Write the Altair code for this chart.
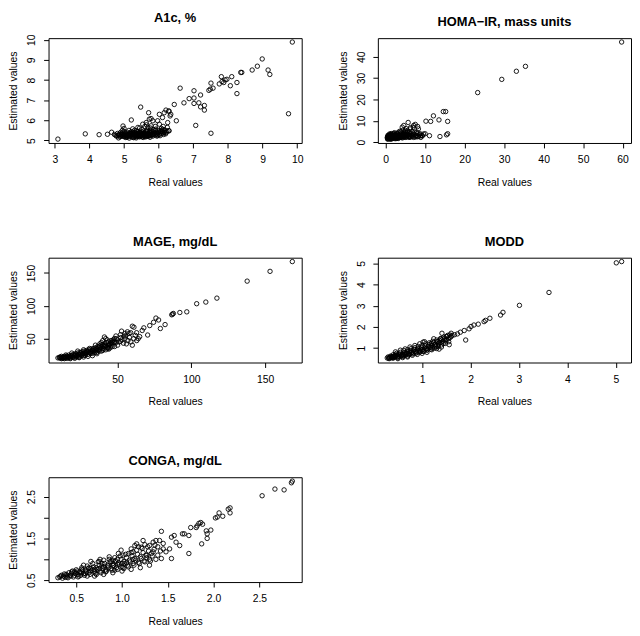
import altair as alt
import pandas as pd

# ---- data (real value, estimated value) ----
A1C_PTS = [
    (3.09, 5.07), (3.88, 5.33), (4.28, 5.29), (4.52, 5.31), (4.64, 5.41),
    (5.48, 6.66), (4.97, 5.72), (5.21, 6.02), (5.71, 6.38), (5.78, 6.09),
    (6.02, 6.30), (6.21, 6.51), (6.30, 6.46), (6.35, 6.30), (6.45, 6.79),
    (6.51, 5.98), (6.62, 7.60), (6.73, 6.87), (6.88, 7.08), (7.02, 7.47),
    (7.02, 7.11), (7.02, 6.84), (7.16, 6.87), (7.21, 7.26), (7.21, 6.67),
    (7.32, 6.74), (7.32, 6.51), (7.07, 5.75), (7.51, 5.36), (7.45, 7.49),
    (7.51, 7.85), (7.49, 7.55), (7.57, 7.60), (7.75, 7.81), (7.81, 8.17),
    (7.83, 7.93), (7.88, 7.88), (7.92, 8.01), (7.97, 8.04), (8.07, 7.72),
    (8.11, 8.17), (8.26, 7.88), (8.26, 7.33), (8.37, 8.38), (8.40, 8.38),
    (8.70, 8.50), (8.85, 8.69), (8.99, 9.05), (9.16, 8.50), (9.21, 8.28),
    (9.75, 6.33), (9.86, 9.89),
    (6.16, 6.38), (6.29, 6.46), (6.33, 6.22), (6.11, 6.14), (5.97, 5.98),
    (6.02, 5.81), (6.13, 5.70), (6.26, 5.89), (6.29, 5.49), (5.83, 5.98),
    (5.73, 6.06), (5.64, 5.89), (5.54, 5.81), (5.78, 5.73), (5.69, 5.65),
    (5.92, 5.57), (6.07, 5.49), (6.16, 5.41),
    (4.72, 5.30), (4.78, 5.22), (4.81, 5.35), (4.85, 5.27), (4.88, 5.18),
    (4.90, 5.40), (4.93, 5.25), (4.96, 5.32), (4.98, 5.20), (5.00, 5.45),
    (5.02, 5.28), (5.05, 5.36), (5.07, 5.17), (5.10, 5.24), (5.12, 5.31),
    (5.14, 5.50), (5.16, 5.20), (5.18, 5.38), (5.20, 5.27), (5.22, 5.33),
    (5.24, 5.16), (5.26, 5.42), (5.28, 5.25), (5.30, 5.30), (5.32, 5.22),
    (5.34, 5.36), (5.36, 5.19), (5.38, 5.28), (5.40, 5.45), (5.42, 5.24),
    (5.44, 5.32), (5.46, 5.20), (5.48, 5.38), (5.50, 5.27), (5.52, 5.55),
    (5.54, 5.30), (5.56, 5.22), (5.58, 5.35), (5.60, 5.26), (5.62, 5.42),
    (5.64, 5.30), (5.66, 5.20), (5.68, 5.50), (5.70, 5.33), (5.72, 5.25),
    (5.74, 5.40), (5.76, 5.62), (5.78, 5.30), (5.80, 5.45), (5.82, 5.28),
    (5.85, 5.55), (5.88, 5.35), (5.90, 5.70), (5.93, 5.42), (5.96, 5.30),
    (6.00, 5.50), (6.05, 5.38), (6.08, 5.60), (6.10, 5.45), (6.14, 5.30),
    (6.18, 5.52), (6.22, 5.40), (6.25, 5.65), (6.30, 5.48), (5.05, 5.15),
    (5.15, 5.12), (5.35, 5.13), (5.55, 5.15), (5.25, 5.58), (5.45, 5.62),
    (5.65, 5.78), (5.00, 5.60), (4.95, 5.50), (5.60, 5.70), (5.30, 5.50),
    (5.40, 5.65), (4.84, 5.13), (5.28, 5.14), (5.75, 5.16), (5.95, 5.22),
    (4.82, 5.24), (4.86, 5.31), (4.90, 5.21), (4.94, 5.36), (4.97, 5.27),
    (5.01, 5.19), (5.03, 5.33), (5.06, 5.25), (5.09, 5.41), (5.11, 5.18),
    (5.13, 5.27), (5.17, 5.34), (5.19, 5.23), (5.21, 5.44), (5.23, 5.29),
    (5.25, 5.21), (5.27, 5.35), (5.29, 5.18), (5.31, 5.40), (5.33, 5.27),
    (5.35, 5.23), (5.37, 5.33), (5.39, 5.21), (5.41, 5.37), (5.43, 5.28),
    (5.45, 5.18), (5.47, 5.31), (5.49, 5.24), (5.51, 5.42), (5.53, 5.19),
    (5.55, 5.29), (5.57, 5.37), (5.59, 5.21), (5.61, 5.33), (5.63, 5.24),
    (5.65, 5.45), (5.67, 5.28), (5.69, 5.36), (5.71, 5.21), (5.73, 5.31),
    (5.75, 5.48), (5.77, 5.24), (5.79, 5.38), (5.81, 5.33), (5.83, 5.22),
    (5.86, 5.42), (5.89, 5.27), (5.91, 5.50), (5.94, 5.33), (5.97, 5.25),
    (5.99, 5.40), (6.02, 5.30), (6.06, 5.45), (6.09, 5.35), (6.12, 5.55),
    (6.16, 5.42), (6.20, 5.33), (6.24, 5.47), (5.08, 5.30), (5.18, 5.28),
    (5.28, 5.31), (5.38, 5.34), (5.48, 5.27), (5.58, 5.30), (5.68, 5.26),
    (4.76, 5.26), (4.92, 5.29), (5.04, 5.22), (5.20, 5.36), (5.32, 5.26),
    (5.44, 5.40), (5.52, 5.34), (5.62, 5.18), (5.72, 5.38), (5.84, 5.30),
    (5.96, 5.36), (6.04, 5.24), (6.13, 5.38), (5.36, 5.48), (5.56, 5.46),
]

HOMA_PTS = [
    (59.75, 46.9), (35.4, 35.5), (33.1, 33.2), (29.4, 29.4), (23.3, 23.2),
    (15.2, 14.3), (14.6, 14.3), (12.1, 12.3), (13.5, 10.4), (15.7, 9.7),
    (10.2, 9.8), (11.4, 9.7), (5.7, 9.2), (13.75, 2.6), (11.1, 3.0),
    (15.4, 3.4), (15.7, 3.9), (10.0, 3.9), (9.2, 3.1), (7.5, 8.3),
    (8.1, 7.3), (7.1, 7.8), (6.25, 6.2), (4.6, 7.8), (4.2, 7.0),
    (8.3, 6.2), (5.0, 5.5), (7.9, 4.7), (8.75, 3.9),
    (0.4, 2.1), (0.5, 1.6), (0.6, 2.8), (0.7, 1.9), (0.8, 2.4), (0.9, 3.3),
    (1.0, 1.7), (1.1, 2.2), (1.2, 2.9), (1.3, 1.5), (1.4, 2.5), (1.5, 3.6),
    (1.6, 2.0), (1.7, 2.7), (1.8, 1.8), (1.9, 3.1), (2.0, 2.3), (2.1, 4.0),
    (2.2, 1.9), (2.3, 2.6), (2.4, 3.4), (2.5, 2.1), (2.6, 2.8), (2.7, 1.7),
    (2.8, 3.9), (2.9, 2.4), (3.0, 3.0), (3.1, 2.0), (3.2, 4.6), (3.3, 2.6),
    (3.4, 3.3), (3.5, 2.2), (3.6, 5.1), (3.7, 2.9), (3.8, 3.7), (3.9, 2.4),
    (4.0, 4.3), (4.1, 2.1), (4.2, 3.1), (4.4, 5.6), (4.5, 2.7), (4.6, 3.5),
    (4.8, 2.3), (4.9, 4.8), (5.0, 3.0), (5.2, 6.3), (5.3, 2.5), (5.5, 3.8),
    (5.6, 5.2), (5.8, 2.8), (6.0, 4.4), (6.2, 2.3), (6.3, 6.8), (6.5, 3.2),
    (6.7, 5.0), (6.9, 2.6), (7.0, 7.0), (7.2, 3.6), (7.4, 4.7), (7.6, 2.4),
    (7.8, 3.1), (8.0, 4.0), (8.3, 2.7), (8.6, 3.5), (8.9, 2.2), (9.3, 2.9),
    (9.6, 3.8), (0.9, 2.6), (1.3, 3.0), (1.7, 2.3), (2.2, 2.9), (2.6, 2.3),
    (3.0, 2.5), (0.6, 2.4), (1.0, 3.8), (1.5, 2.7), (0.5, 1.4), (1.2, 1.4),
    (0.5, 2.4), (0.7, 2.9), (0.9, 2.0), (1.1, 2.7), (1.3, 2.2), (1.5, 1.9),
    (1.7, 3.2), (1.9, 2.2), (2.1, 2.8), (2.3, 2.0), (2.5, 3.2), (2.7, 2.5),
    (2.9, 1.9), (3.1, 3.5), (3.3, 2.1), (3.5, 2.9), (3.7, 2.2), (3.9, 3.3),
    (4.1, 2.6), (4.3, 2.0), (4.5, 3.9), (4.7, 2.5), (4.9, 3.3), (5.1, 2.2),
    (5.4, 2.9), (5.7, 3.4), (5.9, 2.2), (6.1, 3.0), (6.4, 2.5), (6.8, 3.3),
    (7.1, 2.2), (7.5, 3.0), (0.8, 1.5), (1.6, 1.5), (2.4, 1.6), (3.2, 1.7),
    (1.2, 3.5), (2.0, 3.6), (2.8, 3.0), (3.6, 2.6), (4.4, 3.0), (5.2, 3.6),
    (6.0, 2.6), (0.6, 3.2), (1.4, 4.0), (2.2, 4.4), (3.0, 4.0), (3.8, 4.8),
    (4.6, 4.4), (5.4, 4.6), (6.2, 4.0), (7.0, 4.2), (8.1, 2.5), (8.8, 2.9),
]

MAGE_PTS = [
    (168.4, 167.4), (153.3, 152.5), (137.8, 137.6), (117.3, 111.7),
    (109.8, 105.7), (103.6, 103.2), (96.9, 90.8), (92.2, 89.8), (87.8, 88.3),
    (86.7, 86.3), (87.3, 87.3), (82.2, 71.4), (79.0, 65.4), (77.8, 78.4),
    (76.0, 81.3), (74.4, 74.9), (71.8, 69.9), (70.4, 55.5), (67.8, 66.4),
    (66.7, 62.4), (64.0, 50.0), (62.9, 59.0), (61.1, 67.4), (60.0, 68.9),
    (60.0, 40.0), (58.9, 59.0), (57.8, 58.0), (56.7, 60.4), (55.6, 54.0),
    (54.4, 54.0), (52.7, 61.4), (52.2, 51.5), (48.9, 54.0), (47.8, 50.0),
    (46.7, 46.5), (45.6, 44.0), (41.1, 52.5), (43.3, 36.6),
    (9.6, 20.6), (11, 22), (12, 19.5), (13, 21), (14, 23), (15, 20.5),
    (16, 22.5), (17, 25), (18, 21.5), (19, 23.5), (20, 26), (21, 22),
    (22, 24.5), (23, 28), (24, 23), (25, 26), (26, 30), (27, 24.5),
    (28, 27.5), (29, 32), (30, 26), (31, 29), (32, 34), (33, 27.5),
    (34, 31), (35, 36), (36, 29), (37, 33), (38, 39), (39, 31), (40, 35),
    (41, 42), (42, 33), (43, 37), (44, 45), (45, 36), (46, 40), (47, 48),
    (48, 38), (14, 19.5), (16, 20), (18, 20.5), (20, 21.5), (22, 22),
    (24, 25), (26, 26), (28, 29), (30, 31), (32, 28), (34, 33), (36, 35),
    (38, 34), (40, 32), (42, 39), (44, 40), (46, 43), (48, 46), (12, 23),
    (15, 25), (19, 28), (23, 31), (27, 33), (31, 35), (35, 40), (39, 44),
    (43, 48), (17, 22), (21, 25), (25, 28), (29, 29), (33, 32), (37, 37),
    (41, 38), (45, 42), (49, 44), (50, 48), (52, 46), (11, 20.5),
    (13, 19.8), (24, 21.5), (28, 24.5), (32, 30), (36, 31.5), (40, 39.5),
    (44, 34),
    (10.5, 21), (11.5, 21.5), (12.5, 20.5), (13.5, 22), (14.5, 21.5),
    (15.5, 23.5), (16.5, 21), (17.5, 23), (18.5, 24.5), (19.5, 22),
    (20.5, 24), (21.5, 27), (22.5, 23), (23.5, 26), (24.5, 29), (25.5, 24),
    (26.5, 27.5), (27.5, 31), (28.5, 26), (29.5, 30), (30.5, 33),
    (31.5, 27.5), (32.5, 31), (33.5, 35), (34.5, 29), (35.5, 33), (36.5, 38),
    (37.5, 31), (38.5, 36), (39.5, 41), (40.5, 34), (41.5, 40), (42.5, 44),
    (43.5, 35), (44.5, 41), (45.5, 47), (46.5, 38), (47.5, 44), (49, 50),
    (50, 40), (51, 45), (53, 48), (54, 43), (55, 50), (57, 47), (58, 52),
    (56, 42), (59, 45), (61, 50), (62, 55), (63, 47), (65, 53), (52, 56),
    (55, 58), (40, 47), (42, 50), (38, 42), (36, 27), (33, 24), (30, 23),
    (27, 22), (24, 21), (21, 20), (18, 19.5),
]

MODD_PTS = [
    (5.01, 5.03), (5.12, 5.09), (3.62, 3.63), (3.01, 3.02), (2.67, 2.69),
    (2.62, 2.56), (2.40, 2.41), (2.31, 2.31), (2.28, 2.25), (2.16, 2.13),
    (2.07, 2.09), (2.01, 2.02), (1.97, 1.91), (1.90, 1.38), (1.87, 1.83),
    (1.79, 1.75), (1.73, 1.67), (1.67, 1.63), (1.60, 1.70), (1.56, 1.16),
    (1.50, 1.55), (1.41, 1.70), (1.39, 1.44), (1.33, 1.31), (1.24, 1.44),
    (1.19, 1.23), (1.02, 1.28),
    (0.28, 0.53), (0.30, 0.58), (0.32, 0.50), (0.35, 0.62), (0.37, 0.55),
    (0.40, 0.68), (0.42, 0.56), (0.45, 0.63), (0.47, 0.75), (0.50, 0.58),
    (0.52, 0.68), (0.55, 0.80), (0.57, 0.62), (0.60, 0.72), (0.62, 0.88),
    (0.65, 0.65), (0.67, 0.78), (0.70, 0.92), (0.72, 0.68), (0.75, 0.82),
    (0.77, 0.97), (0.80, 0.72), (0.82, 0.87), (0.85, 1.02), (0.87, 0.76),
    (0.90, 0.92), (0.92, 1.08), (0.95, 0.80), (0.97, 0.96), (1.00, 1.12),
    (1.02, 0.84), (1.05, 1.00), (1.07, 1.20), (1.10, 0.90), (1.12, 1.06),
    (1.15, 1.25), (1.18, 0.95), (1.20, 1.12), (1.22, 1.32), (1.25, 1.00),
    (1.28, 1.18), (1.30, 1.38), (1.33, 1.08), (1.35, 1.25), (1.38, 1.45),
    (1.40, 1.15), (1.43, 1.32), (1.45, 1.52), (1.48, 1.22), (1.50, 1.40),
    (1.53, 1.60), (1.55, 1.30), (1.58, 1.50), (1.62, 1.60), (0.40, 0.52),
    (0.50, 0.54), (0.60, 0.60), (0.70, 0.62), (0.80, 0.66), (0.90, 0.70),
    (1.00, 0.75), (1.10, 0.80), (0.45, 0.82), (0.55, 0.90), (0.65, 0.96),
    (0.75, 1.05), (0.85, 1.12), (0.95, 1.20), (1.05, 1.30), (0.58, 0.66),
    (0.68, 0.72), (0.78, 0.78), (0.88, 0.84), (0.98, 0.90), (1.08, 0.96),
    (1.18, 1.04), (1.28, 1.10), (0.33, 0.56), (0.38, 0.60), (0.43, 0.64),
    (0.48, 0.66),
    (0.31, 0.52), (0.34, 0.54), (0.36, 0.58), (0.39, 0.56), (0.41, 0.60),
    (0.44, 0.58), (0.46, 0.68), (0.49, 0.60), (0.51, 0.62), (0.54, 0.72),
    (0.56, 0.64), (0.59, 0.70), (0.61, 0.66), (0.64, 0.78), (0.66, 0.70),
    (0.69, 0.84), (0.71, 0.74), (0.74, 0.70), (0.76, 0.88), (0.79, 0.80),
    (0.81, 0.76), (0.84, 0.94), (0.86, 0.84), (0.89, 0.78), (0.91, 0.98),
    (0.94, 0.88), (0.96, 0.84), (0.99, 1.04), (1.01, 0.92), (1.04, 0.86),
    (1.06, 1.10), (1.09, 0.98), (1.11, 0.92), (1.14, 1.16), (1.16, 1.04),
    (1.19, 1.20), (1.21, 1.00), (1.24, 1.26), (1.26, 1.14), (1.29, 1.06),
    (1.31, 1.30), (1.34, 1.20), (1.36, 1.36), (1.39, 1.26), (1.41, 1.40),
    (1.44, 1.22), (1.46, 1.45), (1.49, 1.33), (1.51, 1.55), (1.54, 1.44),
    (1.57, 1.62), (1.60, 1.55), (1.20, 0.92), (1.30, 0.98), (1.40, 1.05),
    (1.35, 0.95), (0.50, 0.50), (0.60, 0.55), (0.70, 0.58),
]

CONGA_PTS = [
    (2.86, 2.87), (2.85, 2.83), (2.77, 2.66), (2.67, 2.68), (2.53, 2.52),
    (2.18, 2.23), (2.18, 2.11), (2.16, 2.20), (2.10, 2.03), (2.06, 2.11),
    (2.02, 1.99), (2.04, 2.01), (1.97, 1.70), (1.93, 1.61), (1.93, 1.50),
    (1.92, 1.68), (1.88, 1.84), (1.86, 1.88), (1.84, 1.86), (1.82, 1.80),
    (1.81, 1.76), (1.87, 1.37), (1.73, 1.14), (1.75, 1.76), (1.73, 1.57),
    (1.68, 1.61), (1.66, 1.61), (1.63, 1.33), (1.59, 1.41), (1.57, 1.57),
    (1.54, 1.53), (1.43, 1.67), (1.52, 1.25), (1.48, 1.18), (1.45, 1.25),
    (1.54, 1.02), (1.41, 1.45), (1.37, 1.45), (1.34, 1.41), (1.30, 1.33),
    (1.23, 1.45), (1.21, 1.29), (1.16, 1.37), (1.12, 1.18), (1.14, 1.33),
    (1.34, 1.18), (1.39, 1.10), (1.43, 1.02), (1.27, 1.10), (0.99, 1.22),
    (1.01, 1.10), (1.07, 1.14),
    (0.30, 0.56), (0.33, 0.60), (0.35, 0.55), (0.37, 0.65), (0.40, 0.58),
    (0.42, 0.68), (0.44, 0.60), (0.46, 0.72), (0.48, 0.62), (0.50, 0.75),
    (0.52, 0.64), (0.54, 0.70), (0.56, 0.80), (0.58, 0.66), (0.60, 0.74),
    (0.62, 0.84), (0.64, 0.68), (0.66, 0.78), (0.68, 0.90), (0.70, 0.70),
    (0.72, 0.80), (0.74, 0.94), (0.76, 0.72), (0.78, 0.84), (0.80, 0.98),
    (0.82, 0.75), (0.84, 0.86), (0.86, 1.00), (0.88, 0.78), (0.90, 0.90),
    (0.92, 1.04), (0.94, 0.80), (0.96, 0.92), (0.98, 1.08), (1.00, 0.83),
    (1.02, 0.95), (1.04, 1.12), (1.06, 0.86), (1.08, 0.98), (1.10, 1.16),
    (1.12, 0.90), (1.14, 1.02), (1.16, 1.22), (1.18, 0.93), (1.20, 1.06),
    (1.22, 1.26), (1.24, 0.96), (1.26, 1.10), (1.28, 1.30), (1.30, 1.00),
    (1.32, 1.14), (0.40, 0.62), (0.45, 0.66), (0.50, 0.68), (0.55, 0.62),
    (0.60, 0.66), (0.65, 0.72), (0.70, 0.76), (0.75, 0.78), (0.80, 0.82),
    (0.85, 0.80), (0.90, 0.85), (0.95, 0.88), (1.00, 0.90), (1.05, 0.92),
    (0.52, 0.58), (0.62, 0.60), (0.72, 0.64), (0.82, 0.70), (0.92, 0.74),
    (1.02, 0.78), (0.58, 0.86), (0.66, 0.95), (0.76, 1.00), (0.86, 1.06),
    (0.96, 1.14), (0.48, 0.70), (0.88, 0.95), (0.78, 0.90), (1.12, 1.00),
    (0.34, 0.62), (0.38, 0.57), (0.56, 0.76), (0.64, 0.80), (0.90, 0.98),
    (0.32, 0.58), (0.36, 0.60), (0.39, 0.64), (0.41, 0.56), (0.43, 0.62),
    (0.45, 0.70), (0.47, 0.58), (0.49, 0.66), (0.51, 0.72), (0.53, 0.60),
    (0.55, 0.68), (0.57, 0.74), (0.59, 0.62), (0.61, 0.70), (0.63, 0.78),
    (0.65, 0.64), (0.67, 0.74), (0.69, 0.82), (0.71, 0.66), (0.73, 0.76),
    (0.75, 0.86), (0.77, 0.68), (0.79, 0.78), (0.81, 0.90), (0.83, 0.72),
    (0.85, 0.84), (0.87, 0.94), (0.89, 0.74), (0.91, 0.86), (0.93, 0.96),
    (0.95, 0.76), (0.97, 0.88), (0.99, 1.00), (1.01, 0.80), (1.03, 0.90),
    (1.05, 1.04), (1.07, 0.82), (1.09, 0.94), (1.11, 1.08), (1.13, 0.86),
    (1.15, 0.98), (1.17, 1.12), (1.19, 0.90), (1.21, 1.02), (1.23, 1.16),
    (1.25, 0.94), (1.27, 1.04), (1.29, 1.20), (1.31, 0.96), (1.33, 1.08),
    (1.35, 1.24), (1.37, 1.00), (1.39, 1.30), (1.42, 1.20), (1.45, 1.38),
    (1.36, 1.34), (1.25, 1.35), (1.18, 1.30), (1.10, 1.25), (0.70, 0.60),
    (0.80, 0.64), (0.90, 0.68), (1.00, 0.72), (1.10, 0.76), (1.20, 0.80),
    (1.30, 0.86), (0.75, 0.95), (0.95, 1.00),
]

TITLES = ["A1c, %", "HOMA\u2212IR, mass units", "MAGE, mg/dL", "MODD", "CONGA, mg/dL"]
X_TICKS = [[3, 4, 5, 6, 7, 8, 9, 10], [0, 10, 20, 30, 40, 50, 60], [50, 100, 150],
           [1, 2, 3, 4, 5], [0.5, 1.0, 1.5, 2.0, 2.5]]
Y_TICKS = [[5, 6, 7, 8, 9, 10], [0, 10, 20, 30, 40], [50, 100, 150],
           [1, 2, 3, 4, 5], [0.5, 1.0, 1.5, 2.0, 2.5]]
X_FMT = ["d", "d", "d", "d", ".1f"]
Y_LABEL_EXPR = [None, None, None, None,
                "datum.value == 1 || datum.value == 2 ? '' : format(datum.value, '.1f')"]

FONT = "Liberation Sans"
FS = 10.5
W, H = 256, 106


def pad_domain(vals):
    lo, hi = min(vals), max(vals)
    r = hi - lo
    return [lo - 0.04 * r, hi + 0.04 * r]


def axis_common():
    return dict(grid=False, domain=False, ticks=True, tickColor="black", tickSize=5,
                tickWidth=1, labelFont=FONT, labelFontSize=FS, labelColor="black",
                labelFlush=False, labelOverlap=False, titleFont=FONT,
                titleFontSize=FS, titleFontWeight="normal", titleColor="black")


def panel(i, pts):
    df = pd.DataFrame(pts, columns=["real", "est"])
    yaxis_kw = dict(values=Y_TICKS[i], title="Estimated values", labelAngle=270,
                    labelAlign="center", labelBaseline="bottom", labelPadding=7,
                    titlePadding=8, **axis_common())
    if Y_LABEL_EXPR[i]:
        yaxis_kw["labelExpr"] = Y_LABEL_EXPR[i]
    else:
        yaxis_kw["format"] = "d"
    return alt.Chart(
        df,
        title=alt.Title(TITLES[i], fontSize=13, fontWeight="bold", font=FONT,
                        frame="group", anchor="middle", offset=9, color="black"),
    ).mark_point(shape="circle", filled=False, size=20, color="black",
                 strokeWidth=0.9, opacity=1).encode(
        x=alt.X("real:Q",
                scale=alt.Scale(domain=pad_domain(df["real"]), nice=False, zero=False),
                axis=alt.Axis(values=X_TICKS[i], format=X_FMT[i], title="Real values",
                              labelPadding=7, titlePadding=12, **axis_common())),
        y=alt.Y("est:Q",
                scale=alt.Scale(domain=pad_domain(df["est"]), nice=False, zero=False),
                axis=alt.Axis(**yaxis_kw)),
    ).properties(width=W, height=H)


panels = [panel(i, p) for i, p in enumerate([A1C_PTS, HOMA_PTS, MAGE_PTS, MODD_PTS, CONGA_PTS])]

chart = alt.concat(*panels, columns=2, spacing={"row": 116, "column": 77},
                   bounds="flush").properties(
    padding={"left": 0, "top": 0, "right": 0, "bottom": 0},
    background="white",
).configure_view(stroke="black", strokeWidth=1)

chart.save("out.html", embed_options={"renderer": "svg", "actions": False})
